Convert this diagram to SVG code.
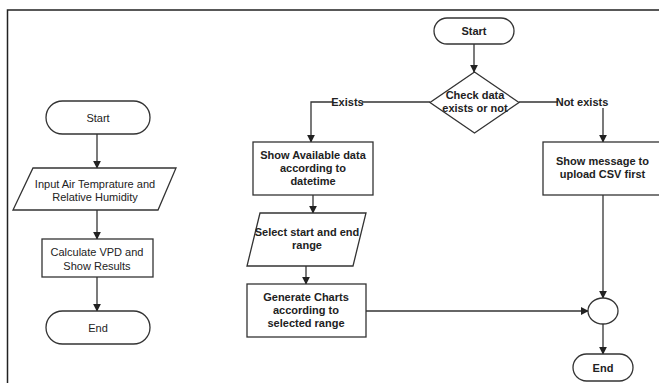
<svg xmlns="http://www.w3.org/2000/svg" width="659" height="383" viewBox="0 0 659 383">
<defs>
<style>
.s{fill:#fff;stroke:#333;stroke-width:1.3}
.t{font-family:"Liberation Sans",Arial,sans-serif;font-size:11px;fill:#222;text-anchor:middle;dominant-baseline:central}
.b{font-weight:bold}
.c{fill:none;stroke:#333;stroke-width:1.3}
.lbl{font-family:"Liberation Sans",Arial,sans-serif;font-size:11px;font-weight:bold;fill:#222;text-anchor:middle;dominant-baseline:central}
</style>
<marker id="ah" viewBox="0 0 10 10" refX="9" refY="5" markerWidth="8" markerHeight="8" markerUnits="userSpaceOnUse" orient="auto">
<path d="M0,0 L10,5 L0,10 z" fill="#222"/>
</marker>
</defs>
<rect width="659" height="383" fill="#fff"/>
<path d="M7.5,383 V10 H659" fill="none" stroke="#222" stroke-width="1.5"/>
<g id="connectors">
<path class="c" d="M97,134 V168" marker-end="url(#ah)"/>
<path class="c" d="M97,210 V239" marker-end="url(#ah)"/>
<path class="c" d="M97,277 V311" marker-end="url(#ah)"/>
<path class="c" d="M474,44 V72" marker-end="url(#ah)"/>
<path class="c" d="M430,102 H311 V142" marker-end="url(#ah)"/>
<path class="c" d="M519,102 H603 V142" marker-end="url(#ah)"/>
<path class="c" d="M313,195 V213" marker-end="url(#ah)"/>
<path class="c" d="M306,266 V284" marker-end="url(#ah)"/>
<path class="c" d="M366,311 H588" marker-end="url(#ah)"/>
<path class="c" d="M603,195 V298" marker-end="url(#ah)"/>
<path class="c" d="M603,324 V354" marker-end="url(#ah)"/>
<rect x="333" y="96" width="29" height="12" fill="#fff"/>
<text class="lbl" x="347.5" y="102">Exists</text>
<rect x="558" y="96" width="48" height="12" fill="#fff"/>
<text class="lbl" x="582" y="102">Not exists</text>
</g>
<g id="l-start"><rect class="s" x="46" y="101" width="104" height="33" rx="16.5"/><text class="t" x="98" y="118">Start</text></g>
<g id="l-input"><polygon class="s" points="33,168 176,168 158,210 13,210"/><text class="t" x="95" y="184">Input Air Temprature and</text><text class="t" x="95" y="197">Relative Humidity</text></g>
<g id="l-calc"><rect class="s" x="42" y="239" width="111" height="38"/><text class="t" x="97" y="252">Calculate VPD and</text><text class="t" x="97" y="266">Show Results</text></g>
<g id="l-end"><rect class="s" x="46" y="311" width="104" height="33" rx="16.5"/><text class="t" x="98" y="327.5">End</text></g>
<g id="r-start"><rect class="s" x="434" y="18" width="80" height="26" rx="13"/><text class="t b" x="474" y="31">Start</text></g>
<g id="r-check"><polygon class="s" points="474.5,72 519,102.5 474.5,133 430,102.5"/><text class="t b" x="475" y="95">Check data</text><text class="t b" x="475" y="108">exists or not</text></g>
<g id="r-show"><rect class="s" x="253" y="142" width="120" height="53"/><text class="t b" x="313" y="155">Show Available data</text><text class="t b" x="313" y="168">according to</text><text class="t b" x="313" y="181">datetime</text></g>
<g id="r-msg"><rect class="s" x="543" y="142" width="120" height="53"/><text class="t b" x="602.5" y="161">Show message to</text><text class="t b" x="602.5" y="174">upload CSV first</text></g>
<g id="r-select"><polygon class="s" points="260,213 366,213 353,266 247,266"/><text class="t b" x="307" y="232">Select start and end</text><text class="t b" x="307" y="245">range</text></g>
<g id="r-gen"><rect class="s" x="247" y="284" width="119" height="53"/><text class="t b" x="306" y="297">Generate Charts</text><text class="t b" x="306" y="310">according to</text><text class="t b" x="306" y="323">selected range</text></g>
<g id="r-merge"><ellipse class="s" cx="603" cy="311" rx="15" ry="13"/></g>
<g id="r-end"><rect class="s" x="573" y="354" width="60" height="27" rx="13.5"/><text class="t b" x="603" y="367.5">End</text></g>
</svg>
